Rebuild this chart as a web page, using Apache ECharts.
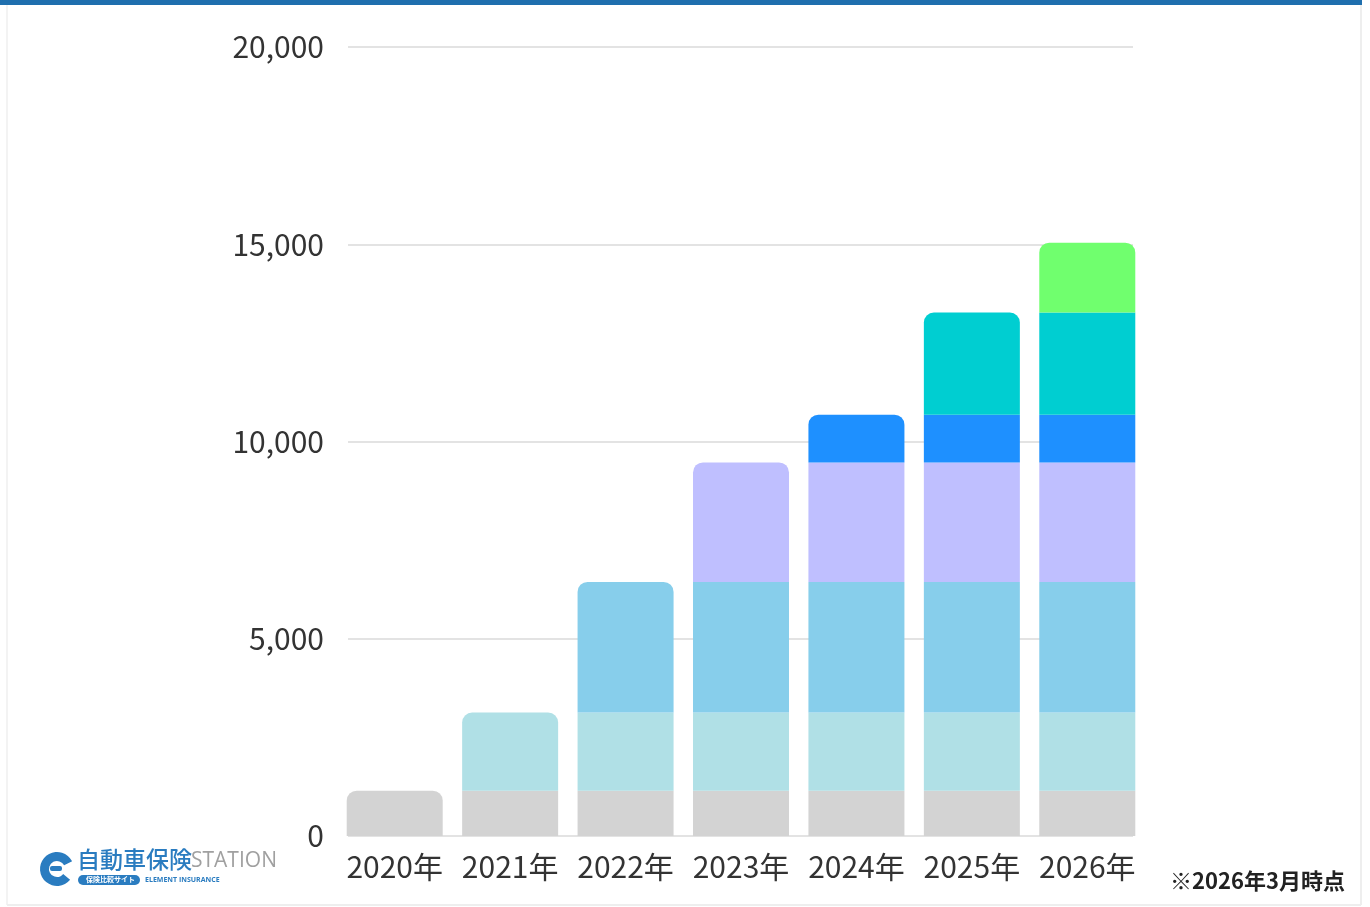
<!DOCTYPE html>
<html><head><meta charset="utf-8">
<script src="https://cdn.jsdelivr.net/npm/echarts@6/dist/echarts.min.js"></script>
<style>html,body{margin:0;padding:0;background:#fff}#c{width:1370px;height:907px}</style>
</head><body><div id="c"></div>
<script>
const categories = ['2020年','2021年','2022年','2023年','2024年','2025年','2026年'];
// added amount in each year's layer (stack segment)
const layerValues = [1150, 1980, 3310, 3030, 1210, 2590, 1770];
const layerColors = ['#d3d3d3','#b0e0e6','#87ceeb','#bfbfff','#1e90ff','#00ced1','#70ff6e'];
const yMin = 0, yMax = 20000, yStep = 5000;
const noteText = '※2026年3月時点';

const FONT = '"Noto Sans CJK JP", "Noto Sans", sans-serif';
const chart = echarts.init(document.getElementById('c'), null, {renderer:'canvas'});

const series = layerValues.map((v, i) => ({
  type: 'bar',
  name: categories[i],
  stack: 'total',
  xAxisIndex: 1,
  yAxisIndex: 1,
  barWidth: 96,
  itemStyle: { color: layerColors[i] },
  data: categories.map((c, j) => j < i ? '-' : (j === i ? { value: v, itemStyle: { borderRadius: [10,10,0,0] } } : v))
}));

chart.setOption({
  animation: false,
  backgroundColor: '#fff',
  grid: [
    { left: 348, width: 785, top: 47, bottom: 71, containLabel: false },
    { left: 337, width: 808, top: 47, bottom: 71, containLabel: false }
  ],
  xAxis: [
    { type: 'value', gridIndex: 0, min: 0, max: 1, show: false },
    { type: 'category', gridIndex: 1, data: categories,
      axisLine: { show: false }, axisTick: { show: false },
      axisLabel: { interval: 0, hideOverlap: false, fontSize: 30, color: '#333', margin: 16, fontFamily: FONT } }
  ],
  yAxis: [
    { type: 'value', gridIndex: 0, min: yMin, max: yMax, interval: yStep,
      axisLine: { show: false }, axisTick: { show: false },
      axisLabel: { fontSize: 30, color: '#333', margin: 24, fontFamily: FONT,
        formatter: v => v.toLocaleString('en-US') },
      splitLine: { lineStyle: { color: '#e3e3e3', width: 2 } } },
    { type: 'value', gridIndex: 1, min: yMin, max: yMax, interval: yStep, show: false, splitLine: { show: false } }
  ],
  series: series,
  graphic: [
    { type: 'rect', shape: { x: 0, y: 0, width: 1362, height: 5 }, style: { fill: '#1f6fae' }, z: 10 },
    { type: 'line', shape: { x1: 1361, y1: 5, x2: 1361, y2: 905 }, style: { stroke: '#eeeeee', lineWidth: 2 } },
    { type: 'line', shape: { x1: 7, y1: 5, x2: 7, y2: 905 }, style: { stroke: '#f3f3f3', lineWidth: 2 } },
    { type: 'line', shape: { x1: 7, y1: 905, x2: 1361, y2: 905 }, style: { stroke: '#eeeeee', lineWidth: 2 } },
    { type: 'text', right: 25, top: 870, style: { text: noteText, font: 'bold 22px ' + FONT, fill: '#222' } },
    // logo watermark
    { type: 'sector', shape: { cx: 57, cy: 869, r: 17, r0: 8, startAngle: Math.PI * 0.22, endAngle: Math.PI * 1.85, clockwise: true }, style: { fill: '#2a7cc0' } },
    { type: 'rect', shape: { x: 50, y: 866, width: 12, height: 5, r: 2 }, style: { fill: '#2a7cc0' } },
    { type: 'text', left: 77, top: 848, style: { text: '自動車保険', font: '500 23px ' + FONT, fill: '#2a7cc0' } },
    { type: 'text', left: 191, top: 851, style: { text: 'STATION', font: '21px "Open Sans", sans-serif', fill: '#a0a0a0' } },
    { type: 'rect', shape: { x: 78, y: 875, width: 62, height: 10, r: 5 }, style: { fill: '#2a7cc0' } },
    { type: 'text', left: 86, top: 876, style: { text: '保険比較サイト', font: 'bold 7px ' + FONT, fill: '#fff' } },
    { type: 'text', left: 145, top: 876, style: { text: 'ELEMENT INSURANCE', font: 'bold 7px "Open Sans", sans-serif', fill: '#2a7cc0' } }
  ]
});
</script></body></html>
